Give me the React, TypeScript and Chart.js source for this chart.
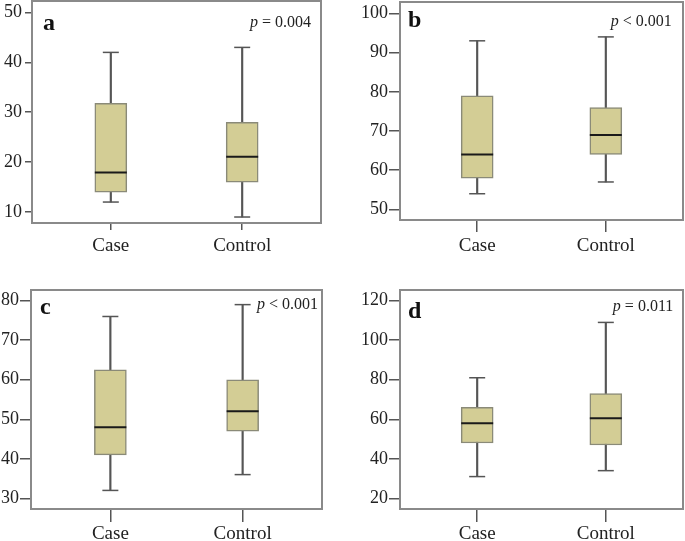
import React, { useEffect, useRef } from "react";
import { Chart, registerables } from "chart.js";

Chart.register(...registerables);

// ---------- data ----------
const categories = ["Case", "Control"];
const panelLetters = ["a", "b", "c", "d"];
const pRelations = ["= 0.004", "< 0.001", "< 0.001", "= 0.011"];

const aMin = [12, 9];
const aQ1 = [14, 16];
const aMedian = [17.9, 21.1];
const aQ3 = [31.8, 28];
const aMax = [42, 43];
const aTicks = [10, 20, 30, 40, 50];

const bMin = [54, 57];
const bQ1 = [58, 64];
const bMedian = [64, 69];
const bQ3 = [79, 76];
const bMax = [93, 94];
const bTicks = [50, 60, 70, 80, 90, 100];

const cMin = [32, 36];
const cQ1 = [41, 47];
const cMedian = [48, 52];
const cQ3 = [62.5, 60];
const cMax = [76, 79];
const cTicks = [30, 40, 50, 60, 70, 80];

const dMin = [31, 34];
const dQ1 = [48, 47];
const dMedian = [58, 60.5];
const dQ3 = [66, 73];
const dMax = [81, 109];
const dTicks = [20, 40, 60, 80, 100, 120];

// ---------- layout / style ----------
const FONT = '"Liberation Serif", "Times New Roman", serif';

type Layout = {
  left: number; top: number; w: number; h: number;
  l: number; t: number; r: number; b: number;
  yMin: number; yMax: number;
  yTick: number; xTick: number; yPad: number; xPad: number;
  letterX: number; letterY: number; pRight: number; pY: number;
};

const layouts: Layout[] = [
  { left: 0, top: 0, w: 340, h: 260, l: 32, t: 1, r: 321, b: 223, yMin: 7.8, yMax: 52.3,
    yTick: 7, xTick: 7, yPad: 3, xPad: 5, letterX: 43, letterY: 30, pRight: 311, pY: 26.7 },
  { left: 340, top: 0, w: 345, h: 260, l: 60, t: 2, r: 343, b: 220, yMin: 47.3, yMax: 102.9,
    yTick: 11, xTick: 12, yPad: 1, xPad: 3, letterX: 68, letterY: 26.7, pRight: 331.7, pY: 26 },
  { left: 0, top: 260, w: 340, h: 281, l: 31, t: 30, r: 322, b: 249, yMin: 27.3, yMax: 82.7,
    yTick: 11, xTick: 13, yPad: 1, xPad: 1, letterX: 40, letterY: 54.3, pRight: 318, pY: 49 },
  { left: 340, top: 260, w: 345, h: 281, l: 60, t: 30, r: 343, b: 249, yMin: 14.6, yMax: 125.4,
    yTick: 11, xTick: 13, yPad: 1, xPad: 1, letterX: 68, letterY: 57.7, pRight: 333.3, pY: 50.7 },
];

type Stats = { min: number[]; q1: number[]; med: number[]; q3: number[]; max: number[]; ticks: number[] };
const stats: Stats[] = [
  { min: aMin, q1: aQ1, med: aMedian, q3: aQ3, max: aMax, ticks: aTicks },
  { min: bMin, q1: bQ1, med: bMedian, q3: bQ3, max: bMax, ticks: bTicks },
  { min: cMin, q1: cQ1, med: cMedian, q3: cQ3, max: cMax, ticks: cTicks },
  { min: dMin, q1: dQ1, med: dMedian, q3: dQ3, max: dMax, ticks: dTicks },
];

function BoxPanel({ idx }: { idx: number }) {
  const ref = useRef<HTMLCanvasElement>(null);
  useEffect(() => {
    const L = layouts[idx];
    const s = stats[idx];
    const whiskers = categories.map((_, i) => ({ x: i, y: [s.min[i], s.max[i]] }));
    const boxes = categories.map((_, i) => ({ x: i, y: [s.q1[i], s.q3[i]] }));
    const caps = [
      ...categories.map((_, i) => ({ x: i, y: s.min[i] })),
      ...categories.map((_, i) => ({ x: i, y: s.max[i] })),
    ];
    const medians = categories.map((_, i) => ({ x: i, y: s.med[i] }));

    const decor = {
      id: "decor" + idx,
      afterDraw(chart: any) {
        const ctx = chart.ctx;
        const a = chart.chartArea;
        ctx.save();
        ctx.strokeStyle = "#8a8a8a";
        ctx.lineWidth = 2;
        ctx.strokeRect(a.left, a.top, a.right - a.left, a.bottom - a.top);
        ctx.fillStyle = "#111";
        ctx.textBaseline = "alphabetic";
        ctx.textAlign = "left";
        ctx.font = `bold 24px ${FONT}`;
        ctx.fillText(panelLetters[idx], L.letterX, L.letterY);
        const rest = " " + pRelations[idx];
        ctx.font = `italic 16px ${FONT}`;
        const pw = ctx.measureText("p").width;
        ctx.font = `16px ${FONT}`;
        const rw = ctx.measureText(rest).width;
        const x0 = L.pRight - pw - rw;
        ctx.font = `italic 16px ${FONT}`;
        ctx.fillStyle = "#222";
        ctx.fillText("p", x0, L.pY);
        ctx.font = `16px ${FONT}`;
        ctx.fillText(rest, x0 + pw, L.pY);
        ctx.restore();
      },
    };

    const chart = new Chart(ref.current as HTMLCanvasElement, {
      type: "bar",
      data: {
        datasets: [
          { type: "scatter", data: medians, pointStyle: "line", pointRadius: 16, pointHoverRadius: 16,
            borderColor: "#1a1a1a", borderWidth: 2, order: 0 } as any,
          { type: "scatter", data: caps, pointStyle: "line", pointRadius: 8, pointHoverRadius: 8,
            borderColor: "#555", borderWidth: 1.5, order: 1 } as any,
          { type: "bar", data: boxes, barThickness: 32, backgroundColor: "#d3cd95",
            borderColor: "#8a8a78", borderWidth: 1.5, borderSkipped: false, grouped: false, order: 2 } as any,
          { type: "bar", data: whiskers, barThickness: 1.5, backgroundColor: "#555",
            borderWidth: 0, grouped: false, order: 3 } as any,
        ],
      },
      options: {
        animation: false,
        responsive: false,
        maintainAspectRatio: false,
        events: [],
        layout: { autoPadding: false, padding: { left: 0, top: L.t, right: L.w - L.r, bottom: 0 } },
        plugins: { legend: { display: false }, tooltip: { enabled: false } },
        scales: {
          x: {
            type: "linear",
            min: -0.6,
            max: 1.6,
            offset: false,
            grid: { display: true, offset: false, drawOnChartArea: false, drawTicks: true,
              tickLength: L.xTick, color: "#555", lineWidth: 1.5 },
            border: { display: false },
            ticks: {
              font: { family: FONT, size: 19 }, color: "#222", padding: L.xPad,
              autoSkip: false, maxRotation: 0,
              callback: (v: any) => categories[v] ?? "",
            },
            afterBuildTicks: (sc: any) => { sc.ticks = categories.map((_, i) => ({ value: i })); },
            afterFit: (sc: any) => { sc.height = L.h - L.b; sc.paddingLeft = 0; sc.paddingRight = 0; },
          } as any,
          y: {
            type: "linear",
            min: L.yMin,
            max: L.yMax,
            grid: { display: true, drawOnChartArea: false, drawTicks: true,
              tickLength: L.yTick, color: "#555", lineWidth: 1.5 },
            border: { display: false },
            ticks: { font: { family: FONT, size: 18 }, color: "#222", padding: L.yPad },
            afterBuildTicks: (sc: any) => { sc.ticks = s.ticks.map((v) => ({ value: v })); },
            afterFit: (sc: any) => { sc.width = L.l; sc.paddingTop = 0; sc.paddingBottom = 0; },
          } as any,
        },
      },
      plugins: [decor],
    });
    return () => chart.destroy();
  }, [idx]);

  const L = layouts[idx];
  return (
    <canvas
      ref={ref}
      width={L.w}
      height={L.h}
      style={{ position: "absolute", left: L.left, top: L.top, width: L.w, height: L.h, display: "block" }}
    />
  );
}

export default function App() {
  return (
    <div style={{ position: "absolute", left: 0, top: 0, width: 685, height: 541, background: "#fff", overflow: "hidden" }}>
      {layouts.map((_, i) => (
        <BoxPanel key={i} idx={i} />
      ))}
    </div>
  );
}
